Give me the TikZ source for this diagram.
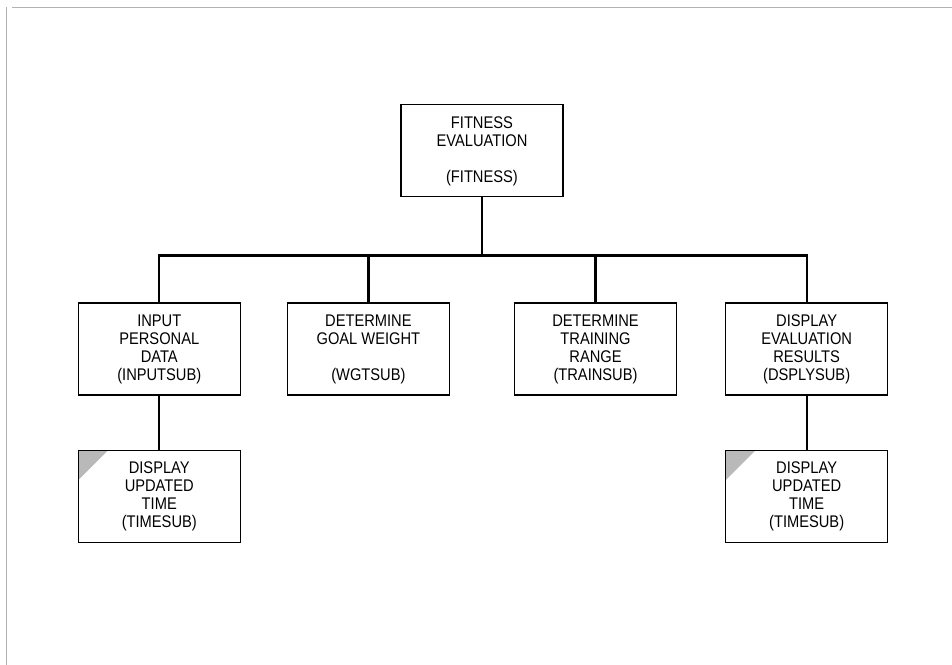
\documentclass[tikz,border=0pt]{standalone}
\usepackage{fontspec}
\setmainfont{Liberation Sans}[FakeStretch=0.87]
\usepackage{tikz}
\usetikzlibrary{positioning, calc}

\begin{document}
\begin{tikzpicture}[
        module/.style={rectangle, draw, line width=0.8pt, minimum width=40.5mm, minimum height=23mm,
            align=center, font=\fontsize{12}{12.8}\selectfont, inner sep=1mm},
        reused/.style={module, path picture={
            \fill[gray!55] (path picture bounding box.north west) -- ++(7.5mm,0) -- ++(-7.5mm,-7.5mm) -- cycle;}},
        conn/.style={line width=1.6pt},
        node distance=12mm
    ]
        \useasboundingbox (0,0) rectangle (238mm,-166.25mm);
        % scan edge
        \draw[gray!60, line width=0.4pt] (3mm,-1.75mm) -- (238mm,-1.75mm);
        \draw[gray!60, line width=0.4pt] (1.5mm,-1.75mm) -- (1.5mm,-166.25mm);

        \node[module] (goal) at (92.1mm,-87.25mm) {DETERMINE\\GOAL WEIGHT\\[4.5mm](WGTSUB)};
        \node[module, left=11.5mm of goal] (input) {INPUT\\PERSONAL\\DATA\\(INPUTSUB)};
        \node[module, right=16mm of goal] (train) {DETERMINE\\TRAINING\\RANGE\\(TRAINSUB)};
        \node[module, right=12mm of train] (dsply) {DISPLAY\\EVALUATION\\RESULTS\\(DSPLYSUB)};
        \node[module, above=26.25mm of {$(goal.north)!0.5!(train.north)$}] (fitness) {FITNESS\\EVALUATION\\[4.5mm](FITNESS)};

        \node[reused, below=13.5mm of input] (timeA) {DISPLAY\\UPDATED\\TIME\\(TIMESUB)};
        \node[reused, below=13.5mm of dsply] (timeB) {DISPLAY\\UPDATED\\TIME\\(TIMESUB)};

        \coordinate (bus) at ($(fitness.south)+(0,-14.5mm)$);
        \draw[conn] (fitness) -- (bus);
        \draw[conn] (input) |- (bus) -| (dsply);
        \draw[conn] (goal) -- (goal |- bus);
        \draw[conn] (train) -- (train |- bus);
        \draw[conn] (input) -- (timeA);
        \draw[conn] (dsply) -- (timeB);
    \end{tikzpicture}
\end{document}
